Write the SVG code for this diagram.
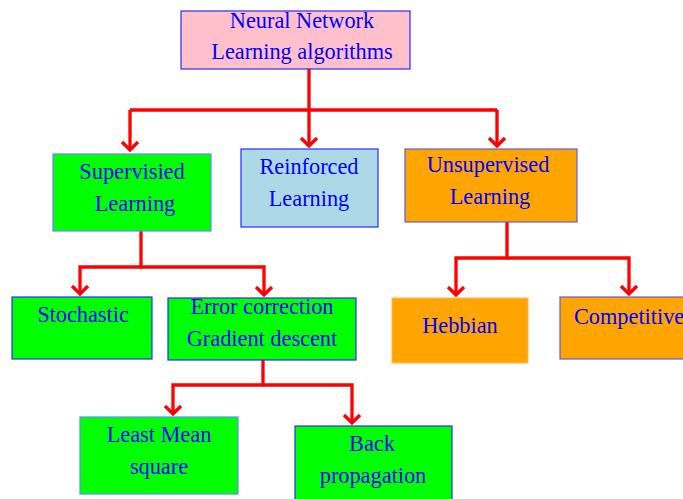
<svg xmlns="http://www.w3.org/2000/svg" width="683" height="499" viewBox="0 0 683 499">
  <style>
    .box { stroke: #2a2aff; stroke-width: 1.2; }
    .pink { fill: #ffc0cb; }
    .green { fill: #00ff00; }
    .lblue { fill: #add8e6; }
    .orange { fill: #ffa500; }
    text { font-family: "Liberation Serif", "Times New Roman", serif; font-size: 22.3px; fill: #0000ff; text-anchor: middle; }
    .wire { fill: none; stroke: #ff0000; stroke-width: 3.3; stroke-linejoin: miter; }
  </style>
  <defs>
    <marker id="arrow" markerWidth="22" markerHeight="22" refX="11" refY="11" orient="auto" markerUnits="userSpaceOnUse">
      <path d="M3,3 L11,11 L3,19" fill="none" stroke="#ff0000" stroke-width="3.3"/>
    </marker>
  </defs>

  <rect width="683" height="499" fill="#ffffff"/>

  <!-- connectors -->
  <g id="connectors">
    <path class="wire" d="M309,69 V110"/>
    <path class="wire" d="M130,110 H497"/>
    <path class="wire" d="M130,110 V150" marker-end="url(#arrow)"/>
    <path class="wire" d="M309,110 V146" marker-end="url(#arrow)"/>
    <path class="wire" d="M497,110 V146" marker-end="url(#arrow)"/>

    <path class="wire" d="M141,231 V267 H80 V294" marker-end="url(#arrow)"/>
    <path class="wire" d="M141,267 H264 V295" marker-end="url(#arrow)"/>

    <path class="wire" d="M507,222 V258 H456 V295" marker-end="url(#arrow)"/>
    <path class="wire" d="M507,258 H629 V294" marker-end="url(#arrow)"/>

    <path class="wire" d="M263,360 V385 H173 V414" marker-end="url(#arrow)"/>
    <path class="wire" d="M263,385 H352 V423" marker-end="url(#arrow)"/>
  </g>

  <!-- nodes -->
  <g id="root">
    <rect class="box pink" x="181" y="11" width="229" height="58"/>
    <text x="302" y="28">Neural Network</text>
    <text x="302" y="59">Learning algorithms</text>
  </g>

  <g id="supervised">
    <rect class="box green" x="53" y="154" width="158" height="77" style="stroke:#5a8cff"/>
    <text x="132" y="179">Supervisied</text>
    <text x="135" y="211">Learning</text>
  </g>

  <g id="reinforced">
    <rect class="box lblue" x="241" y="149" width="137" height="78"/>
    <text x="309" y="174">Reinforced</text>
    <text x="309" y="206">Learning</text>
  </g>

  <g id="unsupervised">
    <rect class="box orange" x="405" y="149" width="172" height="73" style="stroke:#6a5ad0"/>
    <text x="488" y="172">Unsupervised</text>
    <text x="490" y="204">Learning</text>
  </g>

  <g id="stochastic">
    <rect class="box green" x="12" y="297" width="140" height="62"/>
    <text x="83" y="322">Stochastic</text>
  </g>

  <g id="error-correction">
    <rect class="box green" x="168" y="298" width="188" height="62"/>
    <text x="262" y="314">Error correction</text>
    <text x="262" y="346">Gradient descent</text>
  </g>

  <g id="hebbian">
    <rect class="orange" x="392" y="298" width="136" height="65" style="stroke:#ffb84d;stroke-width:1"/>
    <text x="460" y="333">Hebbian</text>
  </g>

  <g id="competitive">
    <rect class="box orange" x="560" y="297" width="130" height="62" style="stroke:#6a5ad0"/>
    <text x="574" y="324" style="text-anchor:start">Competitive</text>
  </g>

  <g id="least-mean-square">
    <rect class="box green" x="80" y="417" width="158" height="77" style="stroke:#5a8cff"/>
    <text x="159" y="442">Least Mean</text>
    <text x="159" y="474">square</text>
  </g>

  <g id="back-propagation">
    <rect class="box green" x="295" y="426" width="157" height="80"/>
    <text x="372" y="451">Back</text>
    <text x="373" y="483">propagation</text>
  </g>
</svg>
